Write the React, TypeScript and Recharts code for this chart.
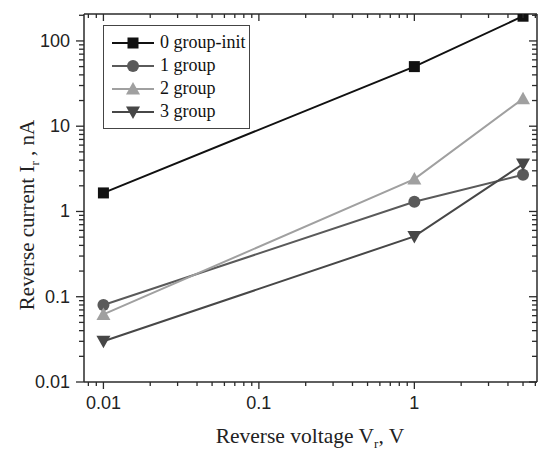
import React from 'react';
import { LineChart, Line, XAxis, YAxis, Legend, Label } from 'recharts';

// reverse voltage (V) and reverse current (nA) per group
const voltages = [0.01, 1, 5];
const group0 = [1.65, 50, 195];
const group1 = [0.08, 1.3, 2.7];
const group2 = [0.062, 2.4, 21];
const group3 = [0.03, 0.51, 3.6];
const seriesNames = ['0 group-init', '1 group', '2 group', '3 group'];
const seriesColors = ['#111111', '#5a5a5a', '#a0a0a0', '#474747'];

const xMajorTicks = [0.01, 0.1, 1];
const xMinorTicks = [0.008, 0.009, 0.02, 0.03, 0.04, 0.05, 0.06, 0.07, 0.08, 0.09,
  0.2, 0.3, 0.4, 0.5, 0.6, 0.7, 0.8, 0.9, 2, 3, 4, 5, 6];
const yMajorTicks = [0.01, 0.1, 1, 10, 100];
const yMinorTicks = [0.02, 0.03, 0.04, 0.05, 0.06, 0.07, 0.08, 0.09,
  0.2, 0.3, 0.4, 0.5, 0.6, 0.7, 0.8, 0.9, 2, 3, 4, 5, 6, 7, 8, 9,
  20, 30, 40, 50, 60, 70, 80, 90, 200];

const data = voltages.map((v, i) => ({
  v,
  g0: group0[i],
  g1: group1[i],
  g2: group2[i],
  g3: group3[i],
}));

const AXIS = '#2a2a2a';
const SERIF = '"Liberation Serif", "Times New Roman", serif';
const SANS = '"Liberation Sans", Arial, sans-serif';
const X_DOMAIN = [0.0075, 6.15];
const Y_DOMAIN = [0.01, 207];

const isMajor = (list: number[], v: number) => list.some((m) => Math.abs(m - v) < 1e-9);

const Marker = ({ kind, cx, cy, color }: any) => {
  if (cx == null || cy == null) return null;
  if (kind === 0) return <rect x={cx - 5.5} y={cy - 5.5} width={11} height={11} fill={color} />;
  if (kind === 1) return <circle cx={cx} cy={cy} r={6} fill={color} />;
  if (kind === 2)
    return <polygon points={`${cx},${cy - 7} ${cx - 7},${cy + 5.5} ${cx + 7},${cy + 5.5}`} fill={color} />;
  return <polygon points={`${cx},${cy + 7} ${cx - 7},${cy - 5.5} ${cx + 7},${cy - 5.5}`} fill={color} />;
};

const BottomTick = ({ x, y, payload }: any) => {
  const major = isMajor(xMajorTicks, payload.value);
  return (
    <g>
      <line x1={x} y1={y} x2={x} y2={y + (major ? 7 : 4)} stroke={AXIS} strokeWidth={1.3} />
      {major && (
        <text x={x} y={y + 27} textAnchor="middle" fontFamily={SANS} fontSize={18} fill="#222">
          {payload.value}
        </text>
      )}
    </g>
  );
};

const TopTick = ({ x, y, payload }: any) => {
  const major = isMajor(xMajorTicks, payload.value);
  return <line x1={x} y1={y} x2={x} y2={y + (major ? 7 : 4)} stroke={AXIS} strokeWidth={1.3} />;
};

const LeftTick = ({ x, y, payload }: any) => {
  const major = isMajor(yMajorTicks, payload.value);
  return (
    <g>
      <line x1={x} y1={y} x2={x - (major ? 8 : 5)} y2={y} stroke={AXIS} strokeWidth={1.3} />
      {major && (
        <text x={x - 14} y={y + 6} textAnchor="end" fontFamily={SANS} fontSize={18} fill="#222">
          {payload.value}
        </text>
      )}
    </g>
  );
};

const RightTick = ({ x, y, payload }: any) => {
  const major = isMajor(yMajorTicks, payload.value);
  return <line x1={x} y1={y} x2={x - (major ? 8 : 5)} y2={y} stroke={AXIS} strokeWidth={1.3} />;
};

const renderLegend = () => (
  <div
    style={{
      border: '1px solid #444',
      background: '#fff',
      padding: '5px 8px 5px 8px',
      fontFamily: SERIF,
      fontSize: 18,
      color: '#111',
      width: 129,
    }}
  >
    {seriesNames.map((name, i) => (
      <div key={name} style={{ display: 'flex', alignItems: 'center', height: 23 }}>
        <svg width={42} height={16} style={{ flex: 'none' }}>
          <line x1={0} y1={8} x2={42} y2={8} stroke={seriesColors[i]} strokeWidth={2} />
          <Marker kind={i} cx={21} cy={8} color={seriesColors[i]} />
        </svg>
        <span style={{ marginLeft: 6, lineHeight: '23px', whiteSpace: 'nowrap' }}>{name}</span>
      </div>
    ))}
  </div>
);

const XTitle = () => (
  <text x={310} y={443} textAnchor="middle" fontFamily={SERIF} fontSize={21.5} fill="#222">
    Reverse voltage V
    <tspan fontSize={13} dy={5}>r</tspan>
    <tspan dy={-5}>, V</tspan>
  </text>
);

const YTitle = () => (
  <text
    x={0}
    y={0}
    transform="translate(34,215) rotate(-90)"
    textAnchor="middle"
    fontFamily={SERIF}
    fontSize={21}
    fill="#222"
  >
    Reverse current I
    <tspan fontSize={13} dy={5}>r</tspan>
    <tspan dy={-5}> , nA</tspan>
  </text>
);

const keys = ['g0', 'g1', 'g2', 'g3'];

export default function App() {
  return (
    <div style={{ position: 'absolute', left: 0, top: 0, background: '#fff' }}>
      <LineChart width={540} height={450} data={data} margin={{ top: 13, right: 2, bottom: 0, left: 0 }}>
        <XAxis
          xAxisId="bottom"
          dataKey="v"
          type="number"
          scale="log"
          domain={X_DOMAIN}
          allowDataOverflow
          ticks={[...xMajorTicks, ...xMinorTicks]}
          interval={0}
          tickSize={0}
          tickMargin={0}
          tickLine={false}
          tick={<BottomTick />}
          height={68}
          axisLine={{ stroke: AXIS, strokeWidth: 1.5 }}
        >
          <Label content={<XTitle />} />
        </XAxis>
        <XAxis
          xAxisId="top"
          orientation="top"
          dataKey="v"
          type="number"
          scale="log"
          domain={X_DOMAIN}
          allowDataOverflow
          ticks={[...xMajorTicks, ...xMinorTicks]}
          interval={0}
          tickSize={0}
          tickMargin={0}
          tickLine={false}
          tick={<TopTick />}
          height={1}
          axisLine={{ stroke: AXIS, strokeWidth: 1.5 }}
        />
        <YAxis
          yAxisId="left"
          type="number"
          scale="log"
          domain={Y_DOMAIN}
          allowDataOverflow
          ticks={[...yMajorTicks, ...yMinorTicks]}
          interval={0}
          tickSize={0}
          tickMargin={0}
          tickLine={false}
          tick={<LeftTick />}
          width={84}
          axisLine={{ stroke: AXIS, strokeWidth: 1.5 }}
        >
          <Label content={<YTitle />} />
        </YAxis>
        <YAxis
          yAxisId="right"
          orientation="right"
          type="number"
          scale="log"
          domain={Y_DOMAIN}
          allowDataOverflow
          ticks={[...yMajorTicks, ...yMinorTicks]}
          interval={0}
          tickSize={0}
          tickMargin={0}
          tickLine={false}
          tick={<RightTick />}
          width={1}
          axisLine={{ stroke: AXIS, strokeWidth: 1.5 }}
        />
        <Legend
          content={renderLegend}
          layout="vertical"
          verticalAlign="middle"
          align="center"
          wrapperStyle={{ position: 'absolute', left: 103, top: 25, width: 'auto' }}
        />
        {keys.map((k, i) => (
          <Line
            key={k}
            xAxisId="bottom"
            yAxisId="left"
            dataKey={k}
            name={seriesNames[i]}
            type="linear"
            stroke={seriesColors[i]}
            strokeWidth={2}
            dot={(p: any) => <Marker key={`${k}-${p.index}`} kind={i} cx={p.cx} cy={p.cy} color={seriesColors[i]} />}
            activeDot={false}
            isAnimationActive={false}
          />
        ))}
      </LineChart>
    </div>
  );
}
